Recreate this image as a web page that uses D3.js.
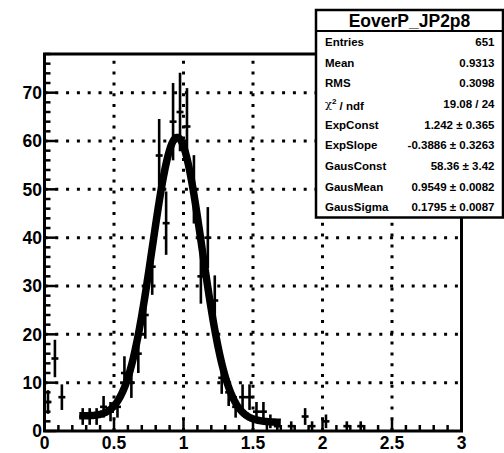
<!DOCTYPE html>
<html><head><meta charset="utf-8">
<script src="https://cdn.jsdelivr.net/npm/d3@7"></script>
<style>
html,body{margin:0;padding:0;background:#fff;}
svg{display:block;font-family:"Liberation Sans",Arial,sans-serif;font-weight:bold;}
</style></head>
<body>
<script>
// ---- data ----
const binCenters = [0.025,0.075,0.125,0.175,0.225,0.275,0.325,0.375,0.425,0.475,0.525,0.575,0.625,0.675,0.725,0.775,0.825,0.875,0.925,0.975,1.025,1.075,1.125,1.175,1.225,1.275,1.325,1.375,1.425,1.475,1.525,1.575,1.625,1.675,1.725,1.775,1.825,1.875,1.925,1.975,2.025,2.075,2.125,2.175,2.225,2.275];
const binCounts  = [6,15,7,0,0,3,3,3,5,4,5,12,10,16,24,34,57,43,64,66,63,50,32,40,27,11,8,5,7,7,4,4,2,1,0,1,0,3,1,0,2,0,0,1,0,1];
const binWidth = 0.05;
const xTicks = [0,0.5,1,1.5,2,2.5,3];
const xTickLabels = ["0","0.5","1","1.5","2","2.5","3"];
const yTicks = [0,10,20,30,40,50,60,70];
const yTickLabels = ["0","10","20","30","40","50","60","70"];
// fit parameters (from stats box)
const expConst = 1.242, expSlope = -0.3886, gausConst = 58.36, gausMean = 0.9549, gausSigma = 0.1795;
const fitRange = [0.25, 1.7];
const statsTitle = "EoverP_JP2p8";
const statsNames = ["Entries","Mean","RMS","CHI","ExpConst","ExpSlope","GausConst","GausMean","GausSigma"];
const statsValues = ["651","0.9313","0.3098","19.08 / 24","1.242 \u00b1 0.365","-0.3886 \u00b1 0.3263","58.36 \u00b1 3.42","0.9549 \u00b1 0.0082","0.1795 \u00b1 0.0087"];

const W = 504, H = 453;
const L = 44.5, R = 461.5, T = 54, B = 431;
const svg = d3.select("body").append("svg").attr("width", W).attr("height", H);
const x = d3.scaleLinear().domain([0,3]).range([L,R]);
const y = d3.scaleLinear().domain([0,78]).range([B,T]);

// grid
const grid = svg.append("g").attr("stroke","#000").attr("stroke-width",3).attr("stroke-dasharray","3,7.8");
grid.selectAll("line.gx").data(xTicks.filter(v=>v>0&&v<3)).join("line")
  .attr("x1",d=>x(d)).attr("x2",d=>x(d)).attr("y1",B).attr("y2",T);
grid.selectAll("line.gy").data(yTicks.filter(v=>v>0)).join("line")
  .attr("x1",L).attr("x2",R).attr("y1",d=>y(d)).attr("y2",d=>y(d));

// ticks (inside)
const tk = svg.append("g").attr("stroke","#000").attr("stroke-width",2.5);
const yMinor = d3.range(0,78.01,2);
tk.selectAll("line.ym").data(yMinor).join("line")
  .attr("x1",L).attr("x2",d=>L+(d%10===0?12:6)).attr("y1",d=>y(d)).attr("y2",d=>y(d));
const xMinor = d3.range(0,3.001,0.1);
tk.selectAll("line.xm").data(xMinor).join("line")
  .attr("y1",B).attr("y2",d=>B-(Math.abs(d*2-Math.round(d*2))<1e-6?11:6)).attr("x1",d=>x(d)).attr("x2",d=>x(d));

// histogram points with errors
const pts = binCenters.map((c,i)=>({c, n: binCounts[i]})).filter(d=>d.n>0);
const hg = svg.append("g").attr("stroke","#000").attr("stroke-width",2.6);
hg.selectAll("line.ev").data(pts).join("line")
  .attr("x1",d=>x(d.c)).attr("x2",d=>x(d.c))
  .attr("y1",d=>y(d.n+Math.sqrt(d.n))).attr("y2",d=>y(Math.max(0,d.n-Math.sqrt(d.n))));
hg.selectAll("line.eh").data(pts).join("line")
  .attr("x1",d=>x(d.c-binWidth/2)).attr("x2",d=>x(d.c+binWidth/2))
  .attr("y1",d=>y(d.n)).attr("y2",d=>y(d.n));

// fit curve
const fx = d3.range(fitRange[0], fitRange[1]+1e-9, 0.005);
const f = v => Math.exp(expConst + expSlope*v) + gausConst*Math.exp(-0.5*Math.pow((v-gausMean)/gausSigma,2));
svg.append("path").datum(fx).attr("fill","none").attr("stroke","#000").attr("stroke-width",7.5)
  .attr("stroke-linejoin","round")
  .attr("d", d3.line().x(d=>x(d)).y(d=>y(f(d))));

// frame
svg.append("rect").attr("x",L).attr("y",T).attr("width",R-L).attr("height",B-T)
  .attr("fill","none").attr("stroke","#000").attr("stroke-width",3);

// tick labels
svg.append("g").selectAll("text").data(yTicks).join("text")
  .attr("x",L-2.5).attr("y",d=>y(d)).attr("dy","0.36em").attr("text-anchor","end")
  .attr("font-size",17.5).text((d,i)=>yTickLabels[i]);
svg.append("g").selectAll("text").data(xTicks).join("text")
  .attr("x",d=>x(d)).attr("y",448.5).attr("text-anchor","middle")
  .attr("font-size",17.5).text((d,i)=>xTickLabels[i]);

// stats box
const sb = svg.append("g");
const bx0 = 316, bx1 = 503, by0 = 10, by1 = 217.5, bsep = 31;
sb.append("rect").attr("x",bx0).attr("y",by0).attr("width",bx1-bx0).attr("height",by1-by0)
  .attr("fill","#fff").attr("stroke","#000").attr("stroke-width",2.5);
sb.append("line").attr("x1",bx0).attr("x2",bx1).attr("y1",bsep).attr("y2",bsep).attr("stroke","#000").attr("stroke-width",2);
sb.append("text").attr("x",(bx0+bx1)/2).attr("y",26.5).attr("text-anchor","middle").attr("font-size",17.5).text(statsTitle);
const rowY = d3.scaleLinear().domain([0,8]).range([41.7,207.3]);
statsNames.forEach((nm,i)=>{
  const t = sb.append("text").attr("x",325).attr("y",rowY(i)).attr("dy","0.36em").attr("font-size",11.5);
  if(nm==="CHI"){
    t.append("tspan").attr("font-family","DejaVu Serif").attr("font-weight","normal").text("\u03c7");
    t.append("tspan").attr("font-size",8).attr("dy","-0.5em").text("2");
    t.append("tspan").attr("dy","0.5em").text(" / ndf");
    t.attr("dy",null).attr("y",rowY(i)+4.1);
  } else t.text(nm);
  sb.append("text").attr("x",494.5).attr("y",rowY(i)).attr("dy","0.36em").attr("text-anchor","end").attr("font-size",11.5).text(statsValues[i]);
});
</script>
</body></html>
